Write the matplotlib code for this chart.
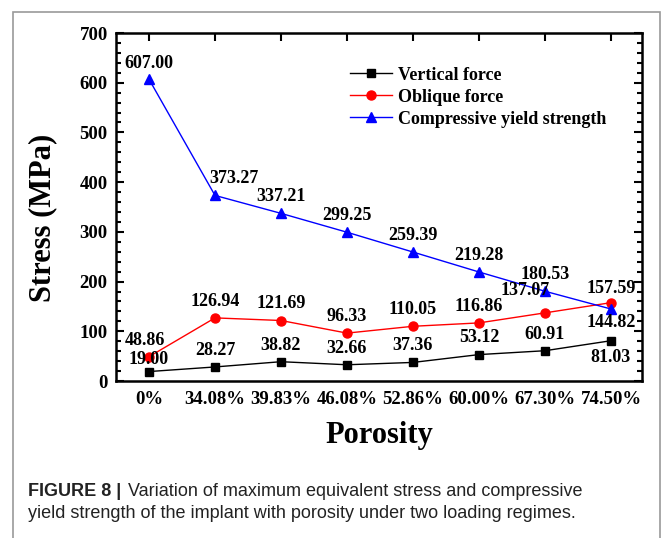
import matplotlib.pyplot as plt
from matplotlib.ticker import MultipleLocator, AutoMinorLocator
from matplotlib.patches import Rectangle

# Данные
porosity = ['0%', '34.08%', '39.83%', '46.08%', '52.86%', '60.00%', '67.30%', '74.50%']
vertical = [19.00, 28.27, 38.82, 32.66, 37.36, 53.12, 60.91, 81.03]
oblique = [48.86, 126.94, 121.69, 96.33, 110.05, 116.86, 137.07, 157.59]
compressive = [607.00, 373.27, 337.21, 299.25, 259.39, 219.28, 180.53, 144.82]

serif = 'Liberation Serif'
W, H = 664, 538

fig = plt.figure(figsize=(6.64, 5.38), dpi=100)
ax = fig.add_axes([116 / W, 1 - 381 / H, 526 / W, 348 / H])

x = list(range(len(porosity)))
ax.plot(x, vertical, color='black', marker='s', markersize=6, lw=1, label='Vertical force')
ax.plot(x, oblique, color='red', marker='o', markersize=6.5, lw=1, label='Oblique force')
ax.plot(x, compressive, color='blue', marker='^', markersize=7, lw=1, label='Compressive yield strength')

ax.set_xlim(-0.5, 7.47)
ax.set_ylim(0, 700)
ax.set_xticks(x)
ax.set_xticklabels(porosity)
ax.yaxis.set_major_locator(MultipleLocator(100))
ax.yaxis.set_minor_locator(AutoMinorLocator(5))

ax.tick_params(axis='y', which='both', direction='in', left=True, right=True, width=1.5, pad=6)
ax.tick_params(axis='y', which='major', length=6)
ax.tick_params(axis='y', which='minor', length=3.5)
ax.tick_params(axis='x', which='major', direction='in', top=True, bottom=False, length=6, width=1.5, pad=7)
for s in ax.spines.values():
    s.set_linewidth(1.8)

for lbl in ax.get_xticklabels() + ax.get_yticklabels():
    lbl.set_fontfamily(serif)
    lbl.set_fontweight('bold')
    lbl.set_fontsize(13.5)

ax.set_xlabel('Porosity', fontfamily=serif, fontweight='bold', fontsize=22)
ax.set_ylabel('Stress (MPa)', fontfamily=serif, fontweight='bold', fontsize=22)
ax.xaxis.set_label_coords(0.5, -0.115)
ax.yaxis.set_label_coords(-0.112, 0.47)

# Подписи значений (смещения в пунктах)
lab_kw = dict(textcoords='offset points', ha='center', va='center',
              fontfamily=serif, fontweight='bold', fontsize=13)
v_off = [(0, 9), (0, 12), (0, 12), (0, 12), (0, 12), (0, 12), (0, 12), (0, -12)]
o_off = [(-3, 12), (0, 12), (0, 12), (0, 12), (0, 12), (0, 12), (-14, 16), (0, 10)]
c_off = [(0, 11), (14, 12), (0, 12), (0, 12), (0, 12), (0, 12), (0, 12), (0, -9.5)]
for xi, v, off in zip(x, vertical, v_off):
    ax.annotate(f'{v:.2f}', (xi, v), xytext=off, **lab_kw)
for xi, v, off in zip(x, oblique, o_off):
    ax.annotate(f'{v:.2f}', (xi, v), xytext=off, **lab_kw)
for xi, v, off in zip(x, compressive, c_off):
    ax.annotate(f'{v:.2f}', (xi, v), xytext=off, **lab_kw)

ax.legend(loc='upper left', bbox_to_anchor=(0.445, 0.903), frameon=False,
          prop={'family': serif, 'weight': 'bold', 'size': 13},
          handlelength=2.3, handletextpad=0.35, labelspacing=0.27,
          borderaxespad=0, borderpad=0)

# Рамка и подпись рисунка
fig.patches.append(Rectangle((13 / W, -0.05), 647 / W, 1 - 12 / H + 0.05,
                             transform=fig.transFigure, fill=False,
                             edgecolor='#9a9a9a', lw=1.2))
cap = dict(fontfamily='Liberation Sans', fontsize=13, va='center', color='#222222')
fig.text(28 / W, 1 - 492 / H, 'FIGURE 8 |', fontweight='bold', **cap)
fig.text(128 / W, 1 - 492 / H,
         'Variation of maximum equivalent stress and compressive', **cap)
fig.text(28 / W, 1 - 514 / H,
         'yield strength of the implant with porosity under two loading regimes.', **cap)

fig.savefig('out.png', dpi=100)
